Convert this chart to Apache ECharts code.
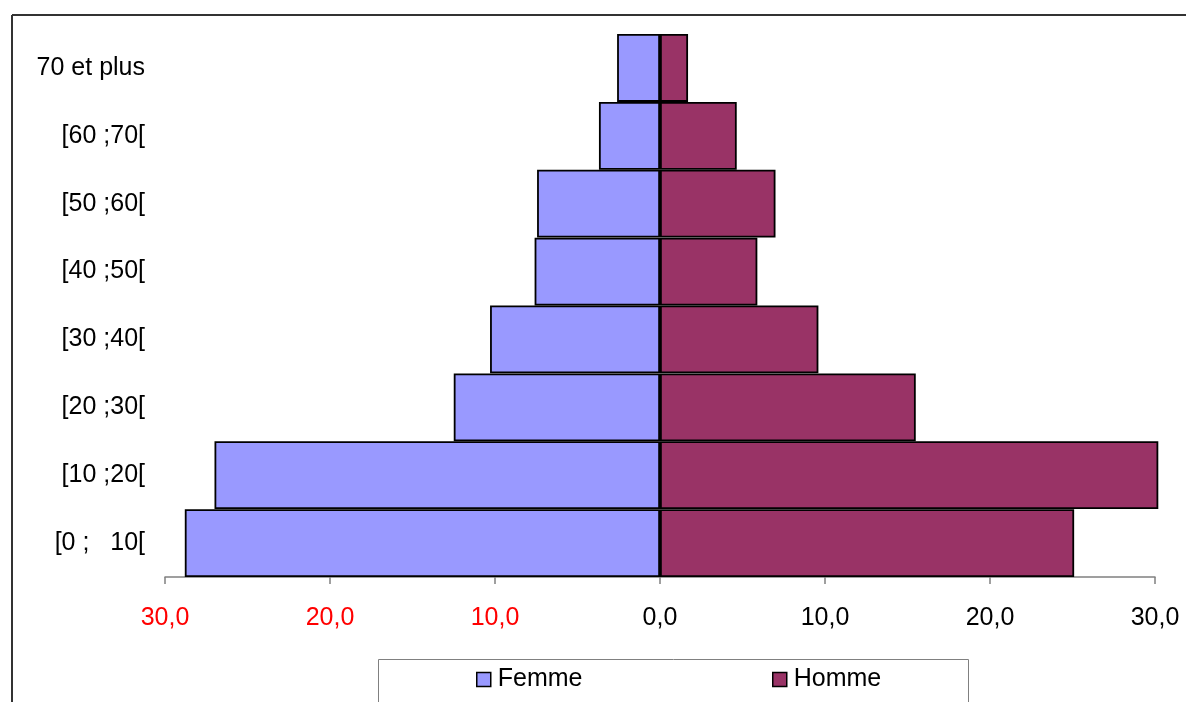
<!DOCTYPE html>
<html><head><meta charset="utf-8">
<script src="https://cdn.jsdelivr.net/npm/echarts@6/dist/echarts.min.js"></script>
<style>html,body{margin:0;padding:0;background:#fff}#c{width:1186px;height:702px}</style>
</head><body><div id="c"></div>
<script>
const categories = ['[0 ;   10[', '[10 ;20[', '[20 ;30[', '[30 ;40[', '[40 ;50[', '[50 ;60[', '[60 ;70[', '70 et plus'];
const femme = [28.8, 27.0, 12.5, 10.3, 7.6, 7.45, 3.7, 2.6];
const homme = [25.1, 30.2, 15.5, 9.6, 5.9, 7.0, 4.65, 1.7];
const xTicks = [-30, -20, -10, 0, 10, 20, 30];

const chart = echarts.init(document.getElementById('c'));
const font = 'Liberation Sans, Arial, sans-serif';
const fs = 25;
const legendBase = {
  top: 667, itemWidth: 14, itemHeight: 14, icon: 'rect', padding: 0,
  textStyle: { fontFamily: font, fontSize: fs, color: '#000', padding: [0, 0, 0, 2] },
  itemStyle: { borderColor: '#000', borderWidth: 1.5 }
};
chart.setOption({
  animation: false,
  grid: { left: 165, right: 31, top: 34, bottom: 125 },
  xAxis: {
    type: 'value', min: xTicks[0], max: xTicks[xTicks.length - 1], interval: 10,
    splitLine: { show: false },
    axisLine: { show: true, onZero: false, lineStyle: { color: '#808080', width: 1.5 } },
    axisTick: { show: true, length: 7, lineStyle: { color: '#808080', width: 1.5 } },
    axisLabel: {
      margin: 29, fontFamily: font, fontSize: fs,
      formatter: v => {
        const s = Math.abs(v).toFixed(1).replace('.', ',');
        return v < 0 ? '{r|' + s + '}' : '{b|' + s + '}';
      },
      rich: { r: { color: '#ff0000', fontSize: fs, fontFamily: font }, b: { color: '#000', fontSize: fs, fontFamily: font } }
    }
  },
  yAxis: {
    type: 'category', data: categories,
    axisLine: { show: false, onZero: false },
    axisTick: { show: false },
    axisLabel: { margin: 20, color: '#000', fontFamily: font, fontSize: fs }
  },
  legend: [
    Object.assign({ left: 476, data: ['Femme'] }, legendBase),
    Object.assign({ left: 772, data: ['Homme'] }, legendBase)
  ],
  graphic: [
    { type: 'rect', shape: { x: 378.5, y: 659.5, width: 590, height: 60 }, style: { fill: 'none', stroke: '#808080', lineWidth: 1 } },
    { type: 'line', shape: { x1: 12, y1: 15, x2: 1186, y2: 15 }, style: { stroke: '#333', lineWidth: 2 } },
    { type: 'line', shape: { x1: 12, y1: 15, x2: 12, y2: 702 }, style: { stroke: '#333', lineWidth: 2 } }
  ],
  series: [
    { name: 'Femme', type: 'bar', stack: 'p', barCategoryGap: 0, clip: false, data: femme.map(v => -v),
      itemStyle: { color: '#9999ff', borderColor: '#000', borderWidth: 1.8 } },
    { name: 'Homme', type: 'bar', stack: 'p', barCategoryGap: 0, clip: false, data: homme,
      itemStyle: { color: '#993366', borderColor: '#000', borderWidth: 1.8 } }
  ]
});
</script></body></html>
